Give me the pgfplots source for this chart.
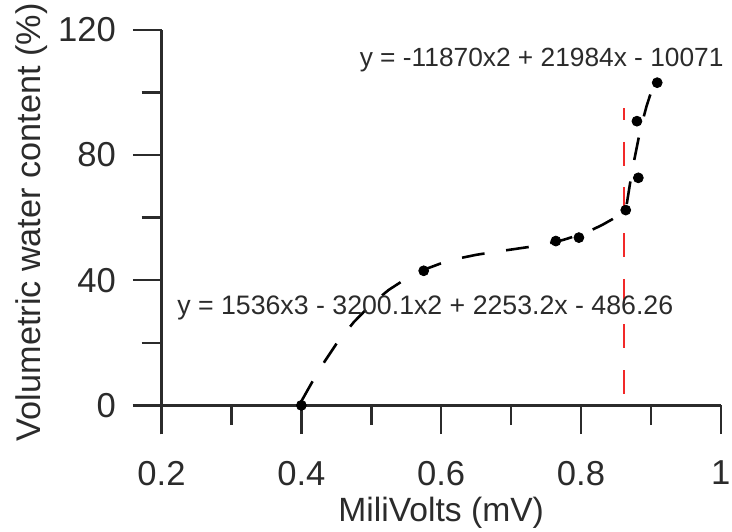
\documentclass[border=0pt]{standalone}
\usepackage{fontspec}
\setmainfont{Liberation Sans}
\usepackage{pgfplots}
\pgfplotsset{compat=1.18}
\definecolor{axgray}{rgb}{0.17,0.17,0.17}
\definecolor{vred}{rgb}{0.95,0.16,0.16}
\begin{document}
\begin{tikzpicture}
\begin{axis}[
  scale only axis,
  width=281.65bp, height=203.73bp,
  xmin=0.2, xmax=1.0, ymin=-9.25, ymax=120,
  axis x line*=middle, axis y line*=left,
  hide obscured x ticks=false, hide obscured y ticks=false,
  xtick={0.2,0.4,0.6,0.8,1.0},
  xticklabels={0.2,0.4,0.6,0.8,1},
  ytick={0,40,80,120},
  minor x tick num=1, minor y tick num=1,
  tick align=outside,
  major tick length=14.5bp, minor tick length=10bp,
  every tick/.style={axgray, line width=1.25bp},
  axis line style={axgray, line width=1.25bp},
  /pgf/number format/assume math mode=true,
  ticklabel style={font=\fontsize{17.5}{20}\selectfont, text=axgray},
  xticklabel style={yshift=-10bp},
  yticklabel style={xshift=-5bp},
  clip=false,
  xlabel={MiliVolts (mV)},
  ylabel={Volumetric water content (\%)},
  every axis x label/.style={at={(axis description cs:0.5,-0.2147)}, anchor=base, font=\fontsize{17}{20}\selectfont, text=axgray},
  every axis y label/.style={at={(axis description cs:-0.2321,0.5242)}, anchor=center, rotate=90, font=\fontsize{17.3}{20}\selectfont, text=axgray},
]
% fitted cubic and quadratic (dashed)
\addplot[black, line width=1.3bp, dash pattern=on 11.5bp off 11bp] coordinates {
 (0.400,1.32) (0.425,11.24) (0.450,19.63) (0.475,26.61) (0.500,32.32)
 (0.525,36.90) (0.550,40.52) (0.575,43.31) (0.600,45.40) (0.625,46.95)
 (0.650,48.10) (0.675,48.99) (0.700,49.78) (0.725,50.60) (0.750,51.58)
 (0.775,52.89) (0.800,54.67) (0.815,56.01) (0.830,57.61) (0.845,59.49)
 (0.864,62.32) (0.870,70.68) (0.876,78.23) (0.882,84.93) (0.888,90.77)
 (0.894,95.77) (0.900,99.90) (0.909,104.5)
};
% red vertical dashed line
\addplot[vred, line width=1.1bp, dash pattern=on 12bp off 11bp, dash phase=6bp] coordinates {(0.861,95) (0.861,0)};
% data points
\addplot[only marks, mark=*, mark size=2.5bp, black] coordinates {
 (0.400,0) (0.575,43.0) (0.764,52.5) (0.797,53.6) (0.864,62.4)
 (0.882,72.7) (0.880,90.8) (0.909,103.1)
};
\draw[axgray, line width=1.25bp] (axis cs:0.159,0) -- (axis cs:0.2,0);
\node[anchor=base west, font=\fontsize{13.3}{15}\selectfont, text=axgray, inner sep=0pt] at (axis cs:0.483,108.3) {y = -11870x2 + 21984x - 10071};
\node[anchor=base west, font=\fontsize{13.5}{15}\selectfont, text=axgray, inner sep=0pt] at (axis cs:0.222,28.9) {y = 1536x3 - 3200.1x2 + 2253.2x - 486.26};
\coordinate (bbl) at (axis cs:-0.0311,-40.19);
\coordinate (btr) at (axis cs:1.0160,129.52);
\end{axis}
\pgfresetboundingbox
\path (bbl) rectangle (btr);
\end{tikzpicture}
\end{document}
